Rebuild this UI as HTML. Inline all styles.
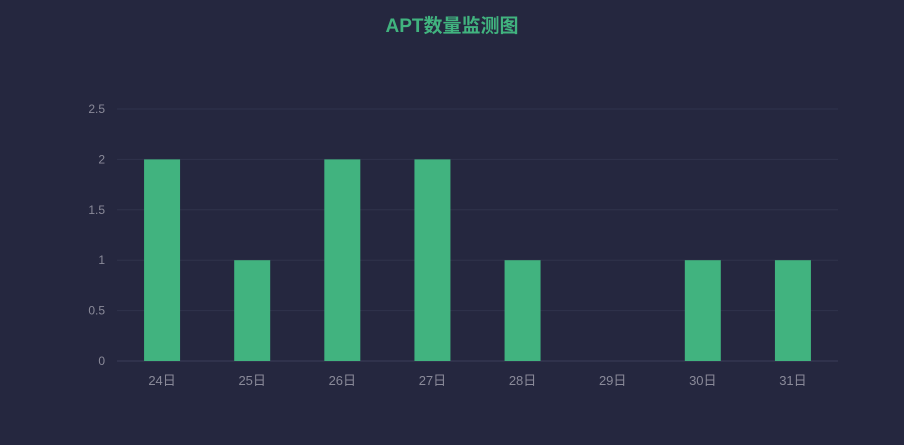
<!DOCTYPE html>
<html><head><meta charset="utf-8"><style>
body{margin:0;background:#25273f;}
svg{display:block;font-family:"Liberation Sans","Noto Sans CJK SC",sans-serif;}
</style></head><body>
<svg id="c" width="904" height="445">
<rect width="904" height="445" fill="#25273f"/>
<text x="452" y="32" text-anchor="middle" font-size="19" font-weight="bold" fill="#41b37f">APT数量监测图</text>
</svg>
<script>
const categories=["24日","25日","26日","27日","28日","29日","30日","31日"];
const values=[2,1,2,2,1,0,1,1];
const ticks=[0,0.5,1,1.5,2,2.5];
const tickLabels=["0","0.5","1","1.5","2","2.5"];
const svg=document.getElementById('c');const NS="http://www.w3.org/2000/svg";
const L=117,R=838,T=109,B=361,max=2.5;
const y=v=>B-(v/max)*(B-T);
const step=(R-L)/categories.length;
const x=i=>L+step*(i+0.5);
function mk(t,a){const e=document.createElementNS(NS,t);for(const k in a)e.setAttribute(k,a[k]);svg.appendChild(e);return e;}
ticks.forEach((t,i)=>{
 const g=mk('line',{x1:L,x2:R,y1:y(t),y2:y(t),stroke:i===0?'#3a3d58':'#30334c','stroke-width':1});
 
 
 const l=mk('text',{x:L-12,y:y(t)+4,'text-anchor':'end','font-size':12,fill:'#8a8a99'});
 l.textContent=tickLabels[i];
 
 
});
categories.forEach((c,i)=>{
 const bw=36;
 if(values[i]>0){
 const r=mk('rect',{x:x(i)-bw/2,y:y(values[i]),width:bw,height:B-y(values[i]),fill:'#41b37f'});
 
 
 }
 const t=mk('text',{x:x(i),y:B+24,'text-anchor':'middle','font-size':13,fill:'#8a8a99'});
 t.textContent=c;
 
 
});
</script>
</body></html>
